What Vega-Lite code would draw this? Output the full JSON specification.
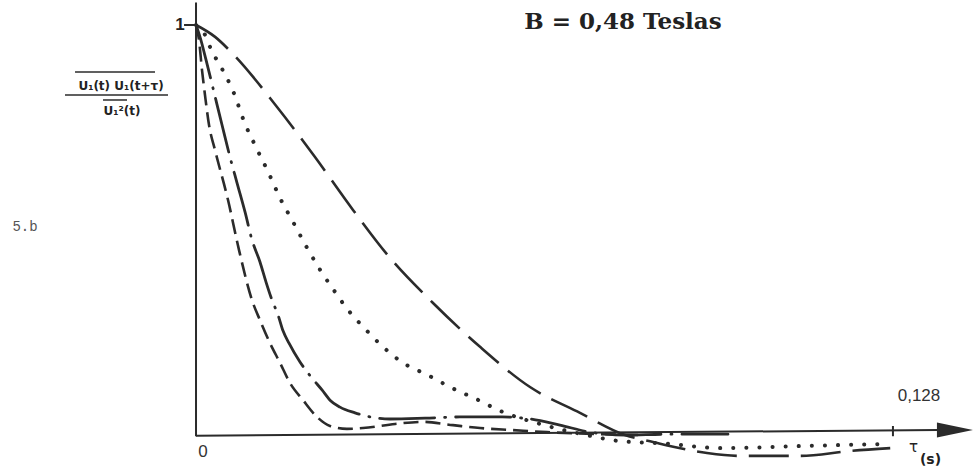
{
  "$schema": "https://vega.github.io/schema/vega-lite/v6.json",
  "width": 975,
  "height": 475,
  "autosize": "none",
  "padding": 0,
  "background": "white",
  "config": {"view": {"stroke": null}},
  "datasets": {
    "curves": [
      {"curve": "long", "tau": 0, "r": 1},
      {"curve": "long", "tau": 0.0035, "r": 0.971},
      {"curve": "long", "tau": 0.0066, "r": 0.932},
      {"curve": "long", "tau": 0.01488, "r": 0.8},
      {"curve": "long", "tau": 0.02185, "r": 0.678},
      {"curve": "long", "tau": 0.02883, "r": 0.549},
      {"curve": "long", "tau": 0.03563, "r": 0.432},
      {"curve": "long", "tau": 0.04353, "r": 0.322},
      {"curve": "long", "tau": 0.05216, "r": 0.215},
      {"curve": "long", "tau": 0.06134, "r": 0.117},
      {"curve": "long", "tau": 0.07052, "r": 0.054},
      {"curve": "long", "tau": 0.07879, "r": 0.0},
      {"curve": "long", "tau": 0.08393, "r": -0.017},
      {"curve": "long", "tau": 0.09385, "r": -0.044},
      {"curve": "long", "tau": 0.0999, "r": -0.051},
      {"curve": "long", "tau": 0.1109, "r": -0.051},
      {"curve": "long", "tau": 0.1201, "r": -0.039},
      {"curve": "long", "tau": 0.1275, "r": -0.032},

      {"curve": "dot", "tau": 0, "r": 1},
      {"curve": "dot", "tau": 0.00165, "r": 0.976},
      {"curve": "dot", "tau": 0.00275, "r": 0.941},
      {"curve": "dot", "tau": 0.00478, "r": 0.893},
      {"curve": "dot", "tau": 0.0068, "r": 0.839},
      {"curve": "dot", "tau": 0.009, "r": 0.759},
      {"curve": "dot", "tau": 0.01102, "r": 0.702},
      {"curve": "dot", "tau": 0.01341, "r": 0.637},
      {"curve": "dot", "tau": 0.01543, "r": 0.578},
      {"curve": "dot", "tau": 0.01781, "r": 0.52},
      {"curve": "dot", "tau": 0.0202, "r": 0.461},
      {"curve": "dot", "tau": 0.02259, "r": 0.407},
      {"curve": "dot", "tau": 0.02516, "r": 0.356},
      {"curve": "dot", "tau": 0.02792, "r": 0.305},
      {"curve": "dot", "tau": 0.03104, "r": 0.259},
      {"curve": "dot", "tau": 0.03434, "r": 0.215},
      {"curve": "dot", "tau": 0.03802, "r": 0.176},
      {"curve": "dot", "tau": 0.04261, "r": 0.146},
      {"curve": "dot", "tau": 0.04665, "r": 0.117},
      {"curve": "dot", "tau": 0.05142, "r": 0.088},
      {"curve": "dot", "tau": 0.05638, "r": 0.056},
      {"curve": "dot", "tau": 0.06318, "r": 0.027},
      {"curve": "dot", "tau": 0.07236, "r": -0.002},
      {"curve": "dot", "tau": 0.07787, "r": -0.015},
      {"curve": "dot", "tau": 0.08522, "r": -0.02},
      {"curve": "dot", "tau": 0.0966, "r": -0.032},
      {"curve": "dot", "tau": 0.1109, "r": -0.027},
      {"curve": "dot", "tau": 0.1262, "r": -0.022},

      {"curve": "dashdot", "tau": 0, "r": 1},
      {"curve": "dashdot", "tau": 0.00073, "r": 0.971},
      {"curve": "dashdot", "tau": 0.00184, "r": 0.915},
      {"curve": "dashdot", "tau": 0.00312, "r": 0.846},
      {"curve": "dashdot", "tau": 0.00478, "r": 0.756},
      {"curve": "dashdot", "tau": 0.00624, "r": 0.678},
      {"curve": "dashdot", "tau": 0.00753, "r": 0.615},
      {"curve": "dashdot", "tau": 0.009, "r": 0.544},
      {"curve": "dashdot", "tau": 0.01028, "r": 0.476},
      {"curve": "dashdot", "tau": 0.01175, "r": 0.422},
      {"curve": "dashdot", "tau": 0.01286, "r": 0.373},
      {"curve": "dashdot", "tau": 0.01396, "r": 0.329},
      {"curve": "dashdot", "tau": 0.01506, "r": 0.293},
      {"curve": "dashdot", "tau": 0.01598, "r": 0.254},
      {"curve": "dashdot", "tau": 0.01708, "r": 0.224},
      {"curve": "dashdot", "tau": 0.0191, "r": 0.178},
      {"curve": "dashdot", "tau": 0.0213, "r": 0.139},
      {"curve": "dashdot", "tau": 0.02314, "r": 0.11},
      {"curve": "dashdot", "tau": 0.02461, "r": 0.085},
      {"curve": "dashdot", "tau": 0.02645, "r": 0.068},
      {"curve": "dashdot", "tau": 0.0292, "r": 0.054},
      {"curve": "dashdot", "tau": 0.03196, "r": 0.044},
      {"curve": "dashdot", "tau": 0.03563, "r": 0.039},
      {"curve": "dashdot", "tau": 0.04206, "r": 0.041},
      {"curve": "dashdot", "tau": 0.04848, "r": 0.044},
      {"curve": "dashdot", "tau": 0.0562, "r": 0.044},
      {"curve": "dashdot", "tau": 0.06134, "r": 0.039},
      {"curve": "dashdot", "tau": 0.06685, "r": 0.024},
      {"curve": "dashdot", "tau": 0.07236, "r": 0.007},
      {"curve": "dashdot", "tau": 0.07879, "r": 0.0},
      {"curve": "dashdot", "tau": 0.0865, "r": 0.002},
      {"curve": "dashdot", "tau": 0.0977, "r": 0.002},

      {"curve": "short", "tau": 0, "r": 1},
      {"curve": "short", "tau": 0.00055, "r": 0.963},
      {"curve": "short", "tau": 0.0011, "r": 0.89},
      {"curve": "short", "tau": 0.00165, "r": 0.829},
      {"curve": "short", "tau": 0.00239, "r": 0.756},
      {"curve": "short", "tau": 0.00349, "r": 0.695},
      {"curve": "short", "tau": 0.00588, "r": 0.573},
      {"curve": "short", "tau": 0.0079, "r": 0.451},
      {"curve": "short", "tau": 0.01028, "r": 0.329},
      {"curve": "short", "tau": 0.01175, "r": 0.28},
      {"curve": "short", "tau": 0.01359, "r": 0.224},
      {"curve": "short", "tau": 0.01543, "r": 0.176},
      {"curve": "short", "tau": 0.01726, "r": 0.127},
      {"curve": "short", "tau": 0.01965, "r": 0.085},
      {"curve": "short", "tau": 0.02222, "r": 0.044},
      {"curve": "short", "tau": 0.02461, "r": 0.022},
      {"curve": "short", "tau": 0.02773, "r": 0.015},
      {"curve": "short", "tau": 0.03067, "r": 0.017},
      {"curve": "short", "tau": 0.03655, "r": 0.027},
      {"curve": "short", "tau": 0.04169, "r": 0.032},
      {"curve": "short", "tau": 0.0472, "r": 0.024},
      {"curve": "short", "tau": 0.05216, "r": 0.017},
      {"curve": "short", "tau": 0.05822, "r": 0.012},
      {"curve": "short", "tau": 0.06446, "r": 0.007},
      {"curve": "short", "tau": 0.0742, "r": 0.002},
      {"curve": "short", "tau": 0.0815, "r": 0.0}
    ],
    "rules": [
      {"part": "axis", "x": 0, "y": -0.003, "x2": 0, "y2": 1.055},
      {"part": "axis", "x": 0, "y": -0.002, "x2": 0.1362, "y2": 0.0122},
      {"part": "axis", "x": -0.0022, "y": 1, "x2": 0, "y2": 1},
      {"part": "axis", "x": 0.128, "y": -0.003, "x2": 0.128, "y2": 0.022},
      {"part": "frac", "x": -0.02222, "y": 0.8854, "x2": -0.00753, "y2": 0.8854},
      {"part": "frac", "x": -0.02406, "y": 0.8293, "x2": -0.00514, "y2": 0.8293},
      {"part": "frac", "x": -0.01708, "y": 0.8171, "x2": -0.01267, "y2": 0.8171}
    ],
    "labels": [
      {"role": "one", "x": -0.00294, "y": 1.0, "text": "1"},
      {"role": "zero", "x": 0.00129, "y": -0.0415, "text": "0"},
      {"role": "tick", "x": 0.13278, "y": 0.0951, "text": "0,128"},
      {"role": "tau", "x": 0.1318, "y": -0.029, "text": "τ"},
      {"role": "s", "x": 0.1349, "y": -0.061, "text": "(s)"},
      {"role": "title", "x": 0.07842, "y": 1.0073, "text": "B = 0,48 Teslas"},
      {"role": "fig", "x": -0.0314, "y": 0.507, "text": "5.b"},
      {"role": "num", "x": -0.01377, "y": 0.851, "text": "U₁(t) U₁(t+τ)"},
      {"role": "den", "x": -0.01359, "y": 0.79, "text": "U₁²(t)"}
    ],
    "arrow": [
      {"x": 0.13939, "y": 0.0122}
    ]
  },
  "layer": [
    {
      "data": {"name": "rules"},
      "transform": [{"filter": "datum.part === 'axis'"}],
      "mark": {"type": "rule", "color": "#2b2b2b", "strokeWidth": 2},
      "encoding": {
        "x": {"field": "x", "type": "quantitative", "scale": {"domain": [-0.036, 0.14307], "nice": false, "zero": false}, "axis": null},
        "y": {"field": "y", "type": "quantitative", "scale": {"domain": [-0.09756, 1.06098], "nice": false, "zero": false}, "axis": null},
        "x2": {"field": "x2"},
        "y2": {"field": "y2"}
      }
    },
    {
      "data": {"name": "rules"},
      "transform": [{"filter": "datum.part === 'frac'"}],
      "mark": {"type": "rule", "color": "#2b2b2b", "strokeWidth": 1.5},
      "encoding": {
        "x": {"field": "x", "type": "quantitative"},
        "y": {"field": "y", "type": "quantitative"},
        "x2": {"field": "x2"},
        "y2": {"field": "y2"}
      }
    },
    {
      "data": {"name": "arrow"},
      "mark": {"type": "point", "shape": "M -1 -0.42 L 1 0 L -1 0.42 Z", "size": 1296, "filled": true, "color": "#2b2b2b", "opacity": 1},
      "encoding": {
        "x": {"field": "x", "type": "quantitative"},
        "y": {"field": "y", "type": "quantitative"}
      }
    },
    {
      "data": {"name": "curves"},
      "transform": [{"filter": "datum.curve === 'long'"}],
      "mark": {"type": "line", "interpolate": "monotone", "color": "#2b2b2b", "strokeWidth": 2.6, "strokeDash": [40, 12]},
      "encoding": {
        "x": {"field": "tau", "type": "quantitative"},
        "y": {"field": "r", "type": "quantitative"},
        "order": {"field": "tau"}
      }
    },
    {
      "data": {"name": "curves"},
      "transform": [{"filter": "datum.curve === 'dot'"}],
      "mark": {"type": "line", "interpolate": "monotone", "color": "#2b2b2b", "strokeWidth": 4, "strokeCap": "round", "strokeDash": [0.1, 13]},
      "encoding": {
        "x": {"field": "tau", "type": "quantitative"},
        "y": {"field": "r", "type": "quantitative"},
        "order": {"field": "tau"}
      }
    },
    {
      "data": {"name": "curves"},
      "transform": [{"filter": "datum.curve === 'dashdot'"}],
      "mark": {"type": "line", "interpolate": "monotone", "color": "#2b2b2b", "strokeWidth": 2.8, "strokeCap": "round", "strokeDash": [55, 10, 1, 10]},
      "encoding": {
        "x": {"field": "tau", "type": "quantitative"},
        "y": {"field": "r", "type": "quantitative"},
        "order": {"field": "tau"}
      }
    },
    {
      "data": {"name": "curves"},
      "transform": [{"filter": "datum.curve === 'short'"}],
      "mark": {"type": "line", "interpolate": "monotone", "color": "#2b2b2b", "strokeWidth": 2.6, "strokeDash": [15, 7]},
      "encoding": {
        "x": {"field": "tau", "type": "quantitative"},
        "y": {"field": "r", "type": "quantitative"},
        "order": {"field": "tau"}
      }
    },
    {
      "data": {"name": "labels"},
      "transform": [{"filter": "datum.role === 'one'"}],
      "mark": {"type": "text", "font": "Liberation Sans", "fontSize": 17, "fontWeight": "bold", "color": "#222", "align": "center", "baseline": "middle"},
      "encoding": {"x": {"field": "x", "type": "quantitative"}, "y": {"field": "y", "type": "quantitative"}, "text": {"field": "text"}}
    },
    {
      "data": {"name": "labels"},
      "transform": [{"filter": "datum.role === 'zero' || datum.role === 'tick'"}],
      "mark": {"type": "text", "font": "Liberation Sans", "fontSize": 17, "color": "#333", "align": "center", "baseline": "middle"},
      "encoding": {"x": {"field": "x", "type": "quantitative"}, "y": {"field": "y", "type": "quantitative"}, "text": {"field": "text"}}
    },
    {
      "data": {"name": "labels"},
      "transform": [{"filter": "datum.role === 'tau'"}],
      "mark": {"type": "text", "font": "DejaVu Sans", "fontSize": 15, "color": "#222", "align": "center", "baseline": "middle"},
      "encoding": {"x": {"field": "x", "type": "quantitative"}, "y": {"field": "y", "type": "quantitative"}, "text": {"field": "text"}}
    },
    {
      "data": {"name": "labels"},
      "transform": [{"filter": "datum.role === 's'"}],
      "mark": {"type": "text", "font": "DejaVu Sans", "fontSize": 14, "fontWeight": "bold", "color": "#222", "align": "center", "baseline": "middle"},
      "encoding": {"x": {"field": "x", "type": "quantitative"}, "y": {"field": "y", "type": "quantitative"}, "text": {"field": "text"}}
    },
    {
      "data": {"name": "labels"},
      "transform": [{"filter": "datum.role === 'title'"}],
      "mark": {"type": "text", "font": "DejaVu Serif", "fontSize": 23, "fontWeight": "bold", "color": "#222", "align": "center", "baseline": "middle"},
      "encoding": {"x": {"field": "x", "type": "quantitative"}, "y": {"field": "y", "type": "quantitative"}, "text": {"field": "text"}}
    },
    {
      "data": {"name": "labels"},
      "transform": [{"filter": "datum.role === 'fig'"}],
      "mark": {"type": "text", "font": "Liberation Mono", "fontSize": 14, "color": "#555", "align": "center", "baseline": "middle"},
      "encoding": {"x": {"field": "x", "type": "quantitative"}, "y": {"field": "y", "type": "quantitative"}, "text": {"field": "text"}}
    },
    {
      "data": {"name": "labels"},
      "transform": [{"filter": "datum.role === 'num' || datum.role === 'den'"}],
      "mark": {"type": "text", "font": "DejaVu Sans", "fontSize": 12, "fontWeight": "bold", "color": "#222", "align": "center", "baseline": "middle"},
      "encoding": {"x": {"field": "x", "type": "quantitative"}, "y": {"field": "y", "type": "quantitative"}, "text": {"field": "text"}}
    }
  ]
}
